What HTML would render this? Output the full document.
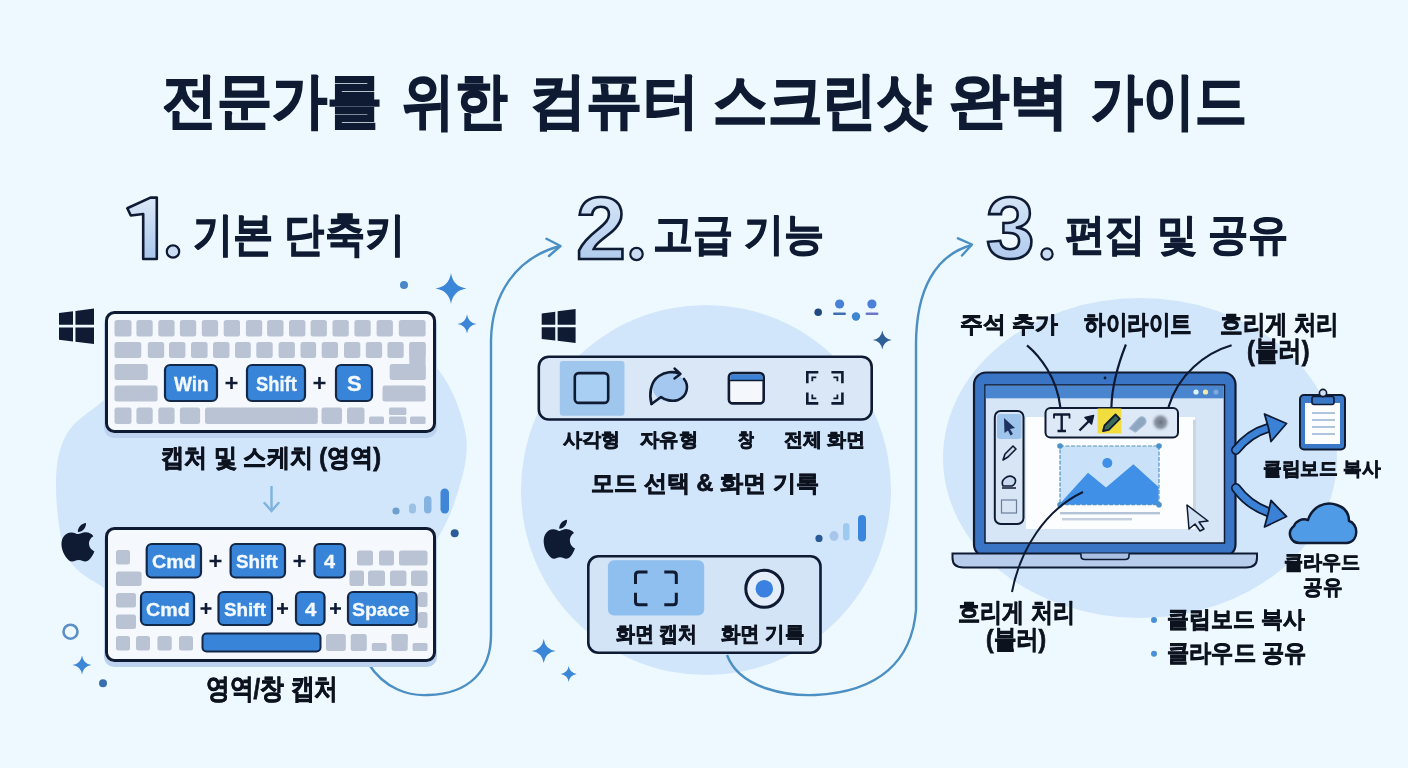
<!DOCTYPE html>
<html lang="ko"><head><meta charset="utf-8"><title>전문가를 위한 컴퓨터 스크린샷 완벽 가이드</title>
<style>
html,body{margin:0;padding:0;}
body{width:1408px;height:768px;overflow:hidden;position:relative;background:#edf9fe;font-family:"Liberation Sans",sans-serif;}
.tx{position:absolute;line-height:1;white-space:nowrap;transform-origin:0 0;}
</style></head><body>
<svg width="1408" height="768" viewBox="0 0 1408 768" style="position:absolute;left:0;top:0"><path d="M265 322 C300.0 320.3 351.4 327.4 380 335 C408.6 342.6 422.2 351.2 436.5 367.5 C450.8 383.8 462.0 412.3 465.6 433 C469.2 453.7 463.9 472.0 458 491.5 C452.1 511.0 444.7 529.4 430 550 C415.3 570.6 396.7 600.0 370 615 C343.3 630.0 305.0 639.5 270 640 C235.0 640.5 187.7 626.7 160 618 C132.3 609.3 119.5 598.5 104 588 C88.5 577.5 74.7 572.3 66.7 555 C58.7 537.7 56.0 504.2 56 484 C56.0 463.8 58.7 448.0 66.7 434 C74.7 420.0 86.8 414.8 104 400 C121.2 385.2 143.2 358.0 170 345 C196.8 332.0 230.0 323.7 265 322Z" fill="#d2e6fb"/><circle cx="706" cy="490" r="185" fill="#d2e6fb"/><ellipse cx="1140" cy="458" rx="197" ry="160" fill="#d2e6fb"/><path d="M368 663 C385 690 410 696 428 695 C470 694 491 670 491 635 L491 340 C492 295 515 258 560 246" fill="none" stroke="#4b8fc3" stroke-width="2.4"/>
<path d="M546.5 238.8 L560.5 246 L549 256" fill="none" stroke="#4b8fc3" stroke-width="2.4" stroke-linecap="round" stroke-linejoin="round"/>
<path d="M727 655 C740 690 790 696 815 695 C880 692 912 660 916 610 L916 345 C916 290 935 255 972 245" fill="none" stroke="#4b8fc3" stroke-width="2.4"/>
<path d="M958 238.3 L972 244.5 L962 255.5" fill="none" stroke="#4b8fc3" stroke-width="2.4" stroke-linecap="round" stroke-linejoin="round"/><circle cx="404" cy="285" r="4" fill="#4a86c8"/>
<path d="M451 273.0 Q453.015 286.485 466.5 288.5 Q453.015 290.515 451 304.0 Q448.985 290.515 435.5 288.5 Q448.985 286.485 451 273.0Z" fill="#3b86d6"/>
<path d="M467 314.5 Q468.235 322.765 476.5 324 Q468.235 325.235 467 333.5 Q465.765 325.235 457.5 324 Q465.765 322.765 467 314.5Z" fill="#3b86d6"/>
<circle cx="396" cy="511" r="3.6" fill="#6f9fcc"/>
<rect x="409" y="503.5" width="7" height="10" rx="3.5" fill="#9cc1e4"/>
<rect x="424" y="496" width="7.5" height="17.5" rx="3.7" fill="#84b3e2"/>
<rect x="440.5" y="488.5" width="8.5" height="25" rx="4.2" fill="#3f86d6"/>
<circle cx="454.7" cy="533.2" r="4" fill="#2a5d9a"/>
<circle cx="70.5" cy="631.7" r="7" fill="none" stroke="#5b8fc8" stroke-width="2.6"/>
<path d="M82 655.5 Q83.235 663.765 91.5 665 Q83.235 666.235 82 674.5 Q80.765 666.235 72.5 665 Q80.765 663.765 82 655.5Z" fill="#3b86d6"/>
<circle cx="103" cy="683.3" r="4" fill="#3a6fae"/>
<circle cx="818.2" cy="312.3" r="3.8" fill="#1f4b82"/>
<circle cx="839.6" cy="304" r="4.6" fill="#4a80d8"/>
<rect x="833" y="312.5" width="13" height="2.6" rx="1.3" fill="#3f6fb0"/>
<circle cx="856" cy="316.5" r="4.2" fill="#3f86d0"/>
<circle cx="871.9" cy="304" r="4.6" fill="#4a80d8"/>
<rect x="865.5" y="312.5" width="13" height="2.6" rx="1.3" fill="#6f78c8"/>
<path d="M882.3 330.5 Q883.535 338.765 891.8 340 Q883.535 341.235 882.3 349.5 Q881.0649999999999 341.235 872.8 340 Q881.0649999999999 338.765 882.3 330.5Z" fill="#2f5f98"/>
<circle cx="819" cy="538.4" r="3.6" fill="#2a5a98"/>
<ellipse cx="834" cy="536" rx="4.5" ry="5" fill="#a8c6ec"/>
<rect x="843" y="523" width="6.5" height="17.5" rx="3.2" fill="#9fcaf0"/>
<rect x="858" y="515" width="8" height="26.5" rx="4" fill="#3a86dc"/>
<path d="M543.7 639 Q545.26 649.44 555.7 651 Q545.26 652.56 543.7 663 Q542.1400000000001 652.56 531.7 651 Q542.1400000000001 649.44 543.7 639Z" fill="#3b86d6"/>
<path d="M568.7 666 Q569.74 672.96 576.7 674 Q569.74 675.04 568.7 682 Q567.6600000000001 675.04 560.7 674 Q567.6600000000001 672.96 568.7 666Z" fill="#3b86d6"/><path d="M59 313.12L73.0 311.27L73.0 324.83L59 324.83ZM75.45 310.95L94 308.5L94 324.83L75.45 324.83ZM59 327.49L73.0 327.49L73.0 341.44L59 339.74ZM75.45 327.49L94 327.49L94 344.0L75.45 341.74Z" fill="#0f1a33"/>
<rect x="104" y="314" width="333" height="124" rx="10" fill="#bcd2ee" />
<rect x="106.5" y="312.5" width="328" height="119" rx="8" fill="#f5f9fd" stroke="#0f1a33" stroke-width="3"/>
<rect x="114.5" y="320" width="17.0" height="16.5" rx="2.5" fill="#b9c3d4" />
<rect x="136.4" y="320" width="16.3" height="16.5" rx="2.5" fill="#b9c3d4" />
<rect x="158.3" y="320" width="16.3" height="16.5" rx="2.5" fill="#b9c3d4" />
<rect x="179.9" y="320" width="16.3" height="16.5" rx="2.5" fill="#b9c3d4" />
<rect x="201.8" y="320" width="16.3" height="16.5" rx="2.5" fill="#b9c3d4" />
<rect x="223.7" y="320" width="16.3" height="16.5" rx="2.5" fill="#b9c3d4" />
<rect x="245.9" y="320" width="16.3" height="16.5" rx="2.5" fill="#b9c3d4" />
<rect x="267.1" y="320" width="16.4" height="16.5" rx="2.5" fill="#b9c3d4" />
<rect x="289" y="320" width="16.4" height="16.5" rx="2.5" fill="#b9c3d4" />
<rect x="310.6" y="320" width="16.3" height="16.5" rx="2.5" fill="#b9c3d4" />
<rect x="332.5" y="320" width="16.3" height="16.5" rx="2.5" fill="#b9c3d4" />
<rect x="354.4" y="320" width="16.3" height="16.5" rx="2.5" fill="#b9c3d4" />
<rect x="376.6" y="320" width="16.3" height="16.5" rx="2.5" fill="#b9c3d4" />
<rect x="398.8" y="320" width="26.8" height="16.5" rx="2.5" fill="#b9c3d4" />
<rect x="114.5" y="342" width="26.8" height="16" rx="2.5" fill="#b9c3d4" />
<rect x="147.8" y="342" width="16.4" height="16" rx="2.5" fill="#b9c3d4" />
<rect x="169" y="342" width="16.4" height="16" rx="2.5" fill="#b9c3d4" />
<rect x="191" y="342" width="16.6" height="16" rx="2.5" fill="#b9c3d4" />
<rect x="213" y="342" width="16.5" height="16" rx="2.5" fill="#b9c3d4" />
<rect x="235" y="342" width="15.8" height="16" rx="2.5" fill="#b9c3d4" />
<rect x="256.3" y="342" width="16.4" height="16" rx="2.5" fill="#b9c3d4" />
<rect x="278.6" y="342" width="16.3" height="16" rx="2.5" fill="#b9c3d4" />
<rect x="300.5" y="342" width="15.6" height="16" rx="2.5" fill="#b9c3d4" />
<rect x="321.7" y="342" width="16.3" height="16" rx="2.5" fill="#b9c3d4" />
<rect x="344" y="342" width="16.3" height="16" rx="2.5" fill="#b9c3d4" />
<rect x="365.8" y="342" width="16.3" height="16" rx="2.5" fill="#b9c3d4" />
<rect x="387.4" y="342" width="16.3" height="16" rx="2.5" fill="#b9c3d4" />
<rect x="409.3" y="342" width="16.3" height="16" rx="2.5" fill="#b9c3d4" />
<rect x="409.3" y="342" width="16.3" height="38" rx="2.5" fill="#b9c3d4" />
<rect x="389.7" y="364" width="35.9" height="16" rx="2.5" fill="#b9c3d4" />
<rect x="114.5" y="364" width="33.3" height="16" rx="2.5" fill="#b9c3d4" />
<rect x="114.5" y="385.5" width="43.1" height="16.0" rx="2.5" fill="#b9c3d4" />
<rect x="382.5" y="385.5" width="43.1" height="16.0" rx="2.5" fill="#b9c3d4" />
<rect x="114.5" y="407.5" width="17.0" height="16.5" rx="2.5" fill="#b9c3d4" />
<rect x="136.4" y="407.5" width="16.3" height="16.5" rx="2.5" fill="#b9c3d4" />
<rect x="158.3" y="407.5" width="16.3" height="16.5" rx="2.5" fill="#b9c3d4" />
<rect x="179.9" y="407.5" width="20.2" height="16.5" rx="2.5" fill="#b9c3d4" />
<rect x="205" y="407.5" width="112.8" height="16.5" rx="2.5" fill="#b9c3d4" />
<rect x="321.5" y="407.5" width="20.5" height="16.5" rx="2.5" fill="#b9c3d4" />
<rect x="347" y="407.5" width="17.5" height="16.5" rx="2.5" fill="#b9c3d4" />
<rect x="369" y="416.5" width="15" height="7.5" rx="1.5" fill="#b9c3d4" />
<rect x="389" y="407.5" width="17.4" height="7.5" rx="1.5" fill="#b9c3d4" />
<rect x="389" y="416.5" width="17.4" height="7.5" rx="1.5" fill="#b9c3d4" />
<rect x="410" y="416.5" width="15.6" height="7.5" rx="1.5" fill="#b9c3d4" />
<rect x="165" y="365" width="52" height="36" rx="5" fill="#3784d8" stroke="#132848" stroke-width="2.2"/>
<rect x="247" y="365" width="58" height="36" rx="5" fill="#3784d8" stroke="#132848" stroke-width="2.2"/>
<rect x="336" y="365" width="36" height="36" rx="5" fill="#3784d8" stroke="#132848" stroke-width="2.2"/>
<path d="M225.5 383H237.5M231.5 377V389" stroke="#0f1a33" stroke-width="2.6"/>
<path d="M313.5 383H325.5M319.5 377V389" stroke="#0f1a33" stroke-width="2.6"/>
<path d="M271.5 486 V510" stroke="#7fb2df" stroke-width="2.4"/><path d="M264.5 503 L271.5 511 L278.5 503" fill="none" stroke="#7fb2df" stroke-width="2.4" stroke-linecap="round"/>
<path transform="translate(61.5 523) scale(1.6872 1.6083) translate(-2.25 0)" d="M12.152 6.896c-.948 0-2.415-1.078-3.96-1.04-2.04.027-3.91 1.183-4.961 3.014-2.117 3.675-.546 9.103 1.519 12.09 1.013 1.454 2.208 3.09 3.792 3.039 1.52-.065 2.09-.987 3.935-.987 1.831 0 2.35.987 3.96.948 1.637-.026 2.676-1.48 3.676-2.948 1.156-1.688 1.636-3.325 1.662-3.415-.039-.013-3.182-1.221-3.22-4.857-.026-3.04 2.48-4.494 2.597-4.559-1.429-2.09-3.623-2.324-4.39-2.376-2-.156-3.675 1.09-4.61 1.09zM15.53 3.83c.843-1.012 1.4-2.427 1.245-3.83-1.207.052-2.662.805-3.532 1.818-.78.896-1.454 2.338-1.273 3.714 1.338.104 2.715-.688 3.559-1.701" fill="#0f1a33"/>
<rect x="104" y="530" width="333" height="137" rx="10" fill="#bcd2ee" />
<rect x="106.5" y="528.5" width="328" height="132" rx="8" fill="#f5f9fd" stroke="#0f1a33" stroke-width="3"/>
<rect x="116" y="550" width="14" height="14.5" rx="2.5" fill="#b9c3d4" />
<rect x="116" y="571.6" width="25.6" height="14.4" rx="2.5" fill="#b9c3d4" />
<rect x="116" y="593" width="20" height="14.4" rx="2.5" fill="#b9c3d4" />
<rect x="116" y="614.6" width="20" height="14.4" rx="2.5" fill="#b9c3d4" />
<rect x="116" y="636" width="14" height="14.5" rx="2.5" fill="#b9c3d4" />
<rect x="136" y="636" width="14" height="14.5" rx="2.5" fill="#b9c3d4" />
<rect x="157.4" y="636" width="14.3" height="14.5" rx="2.5" fill="#b9c3d4" />
<rect x="179" y="636" width="14" height="14.5" rx="2.5" fill="#b9c3d4" />
<rect x="357" y="550.5" width="16" height="14.9" rx="2.5" fill="#b9c3d4" />
<rect x="379" y="550.5" width="15" height="14.9" rx="2.5" fill="#b9c3d4" />
<rect x="399" y="550.5" width="28.5" height="14.9" rx="2.5" fill="#b9c3d4" />
<rect x="349.5" y="570.5" width="14.5" height="15.5" rx="2.5" fill="#b9c3d4" />
<rect x="368" y="570.5" width="17" height="15.5" rx="2.5" fill="#b9c3d4" />
<rect x="390" y="570.5" width="16.4" height="15.5" rx="2.5" fill="#b9c3d4" />
<rect x="411" y="570.5" width="16.5" height="15.5" rx="2.5" fill="#b9c3d4" />
<rect x="418" y="592" width="9.5" height="15" rx="2.5" fill="#b9c3d4" />
<rect x="418" y="612" width="9.5" height="16" rx="2.5" fill="#b9c3d4" />
<rect x="326" y="634" width="19.8" height="17" rx="2.5" fill="#b9c3d4" />
<rect x="350.7" y="634" width="16.1" height="17" rx="2.5" fill="#b9c3d4" />
<rect x="391.6" y="634" width="16.1" height="17" rx="2.5" fill="#b9c3d4" />
<rect x="371.8" y="643" width="14.8" height="8" rx="1.5" fill="#b9c3d4" />
<rect x="412.6" y="643" width="14.9" height="8" rx="1.5" fill="#b9c3d4" />
<rect x="391.6" y="634" width="16.1" height="7.5" rx="1.5" fill="#b9c3d4" />
<rect x="146.7" y="544" width="54.3" height="33.5" rx="5" fill="#3784d8" stroke="#132848" stroke-width="2.2"/>
<rect x="230.6" y="544" width="54.4" height="33.5" rx="5" fill="#3784d8" stroke="#132848" stroke-width="2.2"/>
<rect x="314.5" y="544" width="30.5" height="33.5" rx="5" fill="#3784d8" stroke="#132848" stroke-width="2.2"/>
<path d="M209.5 561H221.5M215.5 555V567" stroke="#0f1a33" stroke-width="2.6"/>
<path d="M293.5 561H305.5M299.5 555V567" stroke="#0f1a33" stroke-width="2.6"/>
<rect x="141" y="592" width="53" height="33" rx="5" fill="#3784d8" stroke="#132848" stroke-width="2.2"/>
<rect x="218.5" y="592" width="53.5" height="33" rx="5" fill="#3784d8" stroke="#132848" stroke-width="2.2"/>
<rect x="296" y="592" width="28.5" height="33" rx="5" fill="#3784d8" stroke="#132848" stroke-width="2.2"/>
<rect x="348" y="592" width="68.6" height="33" rx="5" fill="#3784d8" stroke="#132848" stroke-width="2.2"/>
<path d="M200.5 608.5H211.5M206 603.0V614.0" stroke="#0f1a33" stroke-width="2.6"/>
<path d="M277.0 608.5H288.0M282.5 603.0V614.0" stroke="#0f1a33" stroke-width="2.6"/>
<path d="M330.0 608.5H341.0M335.5 603.0V614.0" stroke="#0f1a33" stroke-width="2.6"/>
<rect x="202.5" y="633.5" width="118" height="18" rx="4" fill="#3784d8" stroke="#132848" stroke-width="2"/><path d="M541.7 313.42L555.26 311.65L555.26 324.64L541.7 324.64ZM557.63 311.34L575.6 309L575.6 324.64L557.63 324.64ZM541.7 327.19L555.26 327.19L555.26 340.55L541.7 338.92ZM557.63 327.19L575.6 327.19L575.6 343L557.63 340.84Z" fill="#0f1a33"/>
<rect x="538.8" y="356.7" width="332.9" height="62.8" rx="10" fill="#d9e7f6" stroke="#0f1a33" stroke-width="2.6"/>
<rect x="559.8" y="361" width="64.7" height="54.8" rx="3" fill="#9fc7ed"/>
<rect x="574.8" y="373.1" width="33.4" height="29.8" rx="4" fill="#a9cff2" stroke="#0f1a33" stroke-width="2.6"/>
<ellipse cx="669" cy="387" rx="16.5" ry="14.5" fill="#a4c8f0"/>
<path d="M651.5 404 C649 395 650 382 659 376 C665 372 673 371 679 373.5" fill="none" stroke="#0f1a33" stroke-width="2.6" stroke-linecap="round"/>
<path d="M674.5 368.5 L680.5 374 L674.5 378.5" fill="none" stroke="#0f1a33" stroke-width="2.4" stroke-linecap="round" stroke-linejoin="round"/>
<path d="M684 379 C689 385 688 396 678 400 C672 402 665 400 661 397 L651.5 404" fill="none" stroke="#0f1a33" stroke-width="2.6" stroke-linecap="round" stroke-linejoin="round"/>
<rect x="728.9" y="373.1" width="34.8" height="30.3" rx="4" fill="#f4f8fc" stroke="#0f1a33" stroke-width="2.6"/>
<rect x="730.2" y="374.4" width="32.2" height="6" rx="1.5" fill="#3b82d6"/>
<path d="M730 380.5 H763" stroke="#0f1a33" stroke-width="1.6"/>
<path d="M807.3 383.3V372.3H818.3M831.4 372.3H842.4V383.3M842.4 392.4V403.4H831.4M818.3 403.4H807.3V392.4" fill="none" stroke="#0f1a33" stroke-width="2.6"/>
<path d="M812.3 381.3V377.3H816.3M833.4 377.3H837.4V381.3M837.4 394.4V398.4H833.4M816.3 398.4H812.3V394.4" fill="none" stroke="#0f1a33" stroke-width="1.8"/>
<path transform="translate(543.7 519.7) scale(1.6051 1.6271) translate(-2.25 0)" d="M12.152 6.896c-.948 0-2.415-1.078-3.96-1.04-2.04.027-3.91 1.183-4.961 3.014-2.117 3.675-.546 9.103 1.519 12.09 1.013 1.454 2.208 3.09 3.792 3.039 1.52-.065 2.09-.987 3.935-.987 1.831 0 2.35.987 3.96.948 1.637-.026 2.676-1.48 3.676-2.948 1.156-1.688 1.636-3.325 1.662-3.415-.039-.013-3.182-1.221-3.22-4.857-.026-3.04 2.48-4.494 2.597-4.559-1.429-2.09-3.623-2.324-4.39-2.376-2-.156-3.675 1.09-4.61 1.09zM15.53 3.83c.843-1.012 1.4-2.427 1.245-3.83-1.207.052-2.662.805-3.532 1.818-.78.896-1.454 2.338-1.273 3.714 1.338.104 2.715-.688 3.559-1.701" fill="#0f1a33"/>
<rect x="588.3" y="556.3" width="232.2" height="96.4" rx="10" fill="#d3e4f6" stroke="#0f1a33" stroke-width="2.6"/>
<rect x="607.9" y="560.2" width="96.3" height="55.4" rx="6" fill="#8fbfee"/>
<path d="M635.5 584V575Q635.5 572 638.5 572H647.5M664.3 572H673.3Q676.3 572 676.3 575V584M676.3 592.7V601.7Q676.3 604.7 673.3 604.7H664.3M647.5 604.7H638.5Q635.5 604.7 635.5 601.7V592.7" fill="none" stroke="#0f1a33" stroke-width="3"/>
<circle cx="764.3" cy="588.75" r="18.5" fill="#e4eefa" stroke="#0f1a33" stroke-width="3"/>
<circle cx="764.3" cy="588.75" r="8.8" fill="#3b82e0"/><rect x="974" y="372.5" width="261.5" height="184" rx="12" fill="#3a74c4" stroke="#0f1a33" stroke-width="2.2"/>
<circle cx="1105" cy="378" r="1.4" fill="#0f1a33"/>
<rect x="985" y="385" width="239.5" height="158" fill="#d6e6f7" stroke="#0f1a33" stroke-width="1.5"/>
<rect x="985.8" y="385.8" width="238" height="12.5" fill="#4a86d0"/>
<circle cx="1196" cy="392" r="2.6" fill="#dff3fb"/><circle cx="1205.5" cy="392" r="2.6" fill="#f1eaa8"/><circle cx="1216" cy="392" r="2.6" fill="#7fa9da"/>
<rect x="1026" y="417" width="169" height="112" fill="#fbfdff"/>
<rect x="1193" y="420" width="3" height="104" fill="#c9d6e6"/>
<rect x="1060" y="446" width="99" height="58.7" fill="#c9e2f9" stroke="#5a93b8" stroke-width="1.2" stroke-dasharray="4 1.5"/>
<path d="M1060.5 503 L1088 472.8 L1106 487.5 L1133.4 464.3 L1158.5 487 L1158.5 504.5 L1060.5 504.5 Z" fill="#3f90e6"/>
<circle cx="1107.3" cy="463" r="5" fill="#3f90e6"/>
<circle cx="1060" cy="446" r="2.8" fill="#4a92c9"/>
<circle cx="1159" cy="446" r="2.8" fill="#4a92c9"/>
<circle cx="1060" cy="504.7" r="2.8" fill="#4a92c9"/>
<circle cx="1159" cy="504.7" r="2.8" fill="#4a92c9"/>
<rect x="1060" y="512" width="100" height="2.4" fill="#b4c4d8"/><rect x="1062" y="518" width="70" height="2.4" fill="#c4d0e0"/>
<path d="M1187 505 L1208 521 L1199 522 L1204 529 L1200 531 L1195 524 L1189 529 Z" fill="#cfe0f2" stroke="#0f1a33" stroke-width="1.5" stroke-linejoin="round"/>
<rect x="1045.5" y="408" width="132.5" height="29.5" rx="5" fill="#dde9f6" stroke="#0f1a33" stroke-width="2"/>
<path d="M1053.5 414.5 H1070 M1061.7 414.5 V431 M1057.5 431 H1066" fill="none" stroke="#0f1a33" stroke-width="2.4"/>
<path d="M1054 414 V418.5 M1069.5 414 V418.5" stroke="#0f1a33" stroke-width="1.8"/>
<path d="M1079.5 430.5 L1090 420" fill="none" stroke="#0f1a33" stroke-width="2.4"/><path d="M1093.6 415.4 L1085 417.5 L1091.5 424 Z" fill="#0f1a33" stroke="#0f1a33" stroke-width="1.5" stroke-linejoin="round"/>
<rect x="1097.7" y="408.5" width="23.7" height="25" fill="#f1de3e"/>
<path d="M1103 431 L1104.5 425.5 L1115.5 414.5 L1119.8 418.8 L1108.8 429.8 Z" fill="#3a6a55" stroke="#0f1a33" stroke-width="1.8" stroke-linejoin="round"/>
<path d="M1129.5 428.5 L1138 419 C1140 416.5 1143 416 1145 418.5 C1146.5 420.5 1146 423 1144 425 L1135.5 432 Z" fill="#8fa6c0" stroke="#9fb6d0" stroke-width="1.2"/>
<defs><radialGradient id="blr"><stop offset="0" stop-color="#6a7484"/><stop offset="0.55" stop-color="#8e98a8"/><stop offset="1" stop-color="#dde9f6" stop-opacity="0"/></radialGradient></defs><circle cx="1160.5" cy="422.3" r="10" fill="url(#blr)"/>
<path d="M1027 345.3 C1040 356 1057 378 1060.3 407" fill="none" stroke="#0f1a33" stroke-width="2.2"/>
<path d="M1125.9 344.5 C1119 362 1112 385 1111.4 407" fill="none" stroke="#0f1a33" stroke-width="2.2"/>
<path d="M1231.6 345.3 C1205 353 1178 375 1168.5 407" fill="none" stroke="#0f1a33" stroke-width="2.2"/>
<rect x="994.8" y="411" width="28.7" height="113" rx="6" fill="#d8e5f5" stroke="#0f1a33" stroke-width="2"/>
<rect x="997" y="414" width="24.5" height="25" rx="3" fill="#9ec4ec"/>
<path d="M1004 418 L1015 428 L1010 429 L1013 434 L1010.5 435.5 L1008 430.5 L1004.5 433 Z" fill="#1d3260"/>
<path d="M1003 460 L1005 454 L1013 446 L1016 449 L1008 457 Z" fill="#c9d9ec" stroke="#0f1a33" stroke-width="1.6" stroke-linejoin="round"/>
<path d="M1003 486 C1000 480 1008 474 1013 477 C1017 479 1016 484 1012 486 Z M1002 488 H1016" fill="#c9d9ec" stroke="#0f1a33" stroke-width="1.6"/>
<rect x="1001.5" y="500" width="15" height="13" fill="none" stroke="#6a7f99" stroke-width="1.2"/>
<path d="M952.5 553.5 H1257 V558 Q1257 567.5 1246 567.5 H963.5 Q952.5 567.5 952.5 558 Z" fill="#b7cdeb" stroke="#0f1a33" stroke-width="2"/>
<path d="M1081 553.5 V556 Q1081 559.5 1085 559.5 H1125 Q1129 559.5 1129 556 V553.5" fill="#a9c0e3" stroke="#0f1a33" stroke-width="1.6"/>
<path d="M1083 492 C1045 510 1020 550 1012 592" fill="none" stroke="#0f1a33" stroke-width="2"/>
<path d="M1236 450 C1244 440 1254 432 1268 428" fill="none" stroke="#0f1a33" stroke-width="10" stroke-linecap="round"/>
<path d="M1236 450 C1244 440 1254 432 1268 428" fill="none" stroke="#3b82d6" stroke-width="6.5" stroke-linecap="round"/>
<path d="M1236 488 C1244 499 1254 507 1268 512" fill="none" stroke="#0f1a33" stroke-width="10" stroke-linecap="round"/>
<path d="M1236 488 C1244 499 1254 507 1268 512" fill="none" stroke="#3b82d6" stroke-width="6.5" stroke-linecap="round"/>
<path d="M1286.5 423.5 L1264.5 414 L1268.5 428 L1271 441.5 Z" fill="#3b82d6" stroke="#0f1a33" stroke-width="1.8" stroke-linejoin="round"/>
<path d="M1286.5 516.5 L1271 500.5 L1268.5 512 L1264.5 527 Z" fill="#3b82d6" stroke="#0f1a33" stroke-width="1.8" stroke-linejoin="round"/>
<rect x="1300" y="395" width="45" height="54.5" rx="4" fill="#3a78c8" stroke="#0f1a33" stroke-width="2"/>
<rect x="1305" y="403" width="35" height="41" fill="#fbfdff"/>
<rect x="1312" y="396.5" width="22" height="8" rx="2" fill="#3a78c8" stroke="#0f1a33" stroke-width="1.6"/>
<circle cx="1323" cy="393" r="3.6" fill="#cfe0f2" stroke="#0f1a33" stroke-width="1.6"/>
<path d="M1312 413 H1335" stroke="#9cb6d6" stroke-width="1.6"/>
<path d="M1312 420 H1335" stroke="#9cb6d6" stroke-width="1.6"/>
<path d="M1312 427 H1335" stroke="#9cb6d6" stroke-width="1.6"/>
<path d="M1312 434 H1335" stroke="#9cb6d6" stroke-width="1.6"/>
<path d="M1300 543 C1290 543 1286.5 532 1294 526 C1296 521 1302 518 1308 520 C1312 507 1325 500.5 1337 505 C1346 508 1349 515 1349 521 C1358 523 1360 541 1347 543 Z" fill="#4f9be6" stroke="#0f1a33" stroke-width="2.5" stroke-linejoin="round"/>
<circle cx="1154" cy="620" r="3" fill="#4a90d9"/><circle cx="1154" cy="653.7" r="3" fill="#4a90d9"/><defs><linearGradient id="ng" x1="0" y1="0" x2="0" y2="1"><stop offset="0" stop-color="#dbe9f8"/><stop offset="1" stop-color="#a9c6ec"/></linearGradient></defs>
<path d="M127.3 208.3 L150.5 197.6 L156.8 197.6 L156.8 259 L143.2 259 L143.2 214 L130.8 215.5 Z" fill="url(#ng)" stroke="#0f1a33" stroke-width="2.6" stroke-linejoin="round"/>
<circle cx="173" cy="251.5" r="6.2" fill="#c9dcf2" stroke="#0f1a33" stroke-width="2.2"/>
<circle cx="636.5" cy="254" r="6.2" fill="#c9dcf2" stroke="#0f1a33" stroke-width="2.2"/>
<circle cx="1047" cy="254" r="5.6" fill="#c9dcf2" stroke="#0f1a33" stroke-width="2.2"/></svg>
<div class="tx" style="left:162.0px;top:71.0px;font-size:59.628px;transform:scaleX(0.9187);font-weight:700;color:#0f1a33;-webkit-text-stroke:1.5px #0f1a33;">전문가를</div>
<div class="tx" style="left:402.0px;top:71.0px;font-size:60.656px;transform:scaleX(0.861);font-weight:700;color:#0f1a33;-webkit-text-stroke:1.5px #0f1a33;">위한</div>
<div class="tx" style="left:529.6px;top:71.0px;font-size:60.018px;transform:scaleX(0.9378);font-weight:700;color:#0f1a33;-webkit-text-stroke:1.5px #0f1a33;">컴퓨터</div>
<div class="tx" style="left:713.0px;top:70.0px;font-size:62.366px;transform:scaleX(0.8792);font-weight:700;color:#0f1a33;-webkit-text-stroke:1.5px #0f1a33;">스크린샷</div>
<div class="tx" style="left:949.0px;top:71.0px;font-size:60.018px;transform:scaleX(1.0028);font-weight:700;color:#0f1a33;-webkit-text-stroke:1.5px #0f1a33;">완벽</div>
<div class="tx" style="left:1091.0px;top:71.0px;font-size:60.656px;transform:scaleX(0.8494);font-weight:700;color:#0f1a33;-webkit-text-stroke:1.5px #0f1a33;">가이드</div>
<div class="tx" style="left:193.0px;top:212.0px;font-size:45.856px;transform:scaleX(0.8731);font-weight:700;color:#0f1a33;-webkit-text-stroke:0.9px #0f1a33;">기본 단축키</div>
<div class="tx" style="left:653.0px;top:212.0px;font-size:43.642px;transform:scaleX(0.9111);font-weight:700;color:#0f1a33;-webkit-text-stroke:0.9px #0f1a33;">고급 기능</div>
<div class="tx" style="left:1065.0px;top:213.0px;font-size:43.158px;transform:scaleX(0.9353);font-weight:700;color:#0f1a33;-webkit-text-stroke:0.9px #0f1a33;">편집 및 공유</div>
<div class="tx" style="left:160.5px;top:444.7px;font-size:25.108px;transform:scaleX(0.9263);font-weight:700;color:#0d121f;-webkit-text-stroke:0.75px #0d121f;">캡처 및 스케치 (영역)</div>
<div class="tx" style="left:206.0px;top:675.0px;font-size:27.698px;transform:scaleX(0.8504);font-weight:700;color:#0d121f;-webkit-text-stroke:0.75px #0d121f;">영역/창 캡처</div>
<div class="tx" style="left:562.9px;top:430.5px;font-size:18.921px;transform:scaleX(1.0053);font-weight:700;color:#0d121f;-webkit-text-stroke:0.75px #0d121f;">사각형</div>
<div class="tx" style="left:640.2px;top:430.5px;font-size:18.935px;transform:scaleX(1.0179);font-weight:700;color:#0d121f;-webkit-text-stroke:0.75px #0d121f;">자유형</div>
<div class="tx" style="left:737.5px;top:430.5px;font-size:18.802px;transform:scaleX(0.8356);font-weight:700;color:#0d121f;-webkit-text-stroke:0.75px #0d121f;">창</div>
<div class="tx" style="left:784.4px;top:430.5px;font-size:18.703px;transform:scaleX(1.0029);font-weight:700;color:#0d121f;-webkit-text-stroke:0.75px #0d121f;">전체 화면</div>
<div class="tx" style="left:591.0px;top:471.7px;font-size:23.315px;transform:scaleX(1.005);font-weight:700;color:#0d121f;-webkit-text-stroke:0.75px #0d121f;">모드 선택 &amp; 화면 기록</div>
<div class="tx" style="left:615.6px;top:623.0px;font-size:21.088px;transform:scaleX(0.9031);font-weight:700;color:#0d121f;-webkit-text-stroke:0.75px #0d121f;">화면 캡처</div>
<div class="tx" style="left:721.2px;top:624.0px;font-size:20.686px;transform:scaleX(0.9246);font-weight:700;color:#0d121f;-webkit-text-stroke:0.75px #0d121f;">화면 기록</div>
<div class="tx" style="left:959.8px;top:313.4px;font-size:23.421px;transform:scaleX(0.9944);font-weight:700;color:#0d121f;-webkit-text-stroke:0.75px #0d121f;">주석 추가</div>
<div class="tx" style="left:1083.8px;top:312.0px;font-size:25.806px;transform:scaleX(0.8281);font-weight:700;color:#0d121f;-webkit-text-stroke:0.75px #0d121f;">하이라이트</div>
<div class="tx" style="left:1220.2px;top:311.8px;font-size:25.806px;transform:scaleX(0.8659);font-weight:700;color:#0d121f;-webkit-text-stroke:0.75px #0d121f;">흐리게 처리</div>
<div class="tx" style="left:1247.4px;top:337.4px;font-size:27.743px;transform:scaleX(0.8397);font-weight:700;color:#0d121f;-webkit-text-stroke:0.75px #0d121f;">(블러)</div>
<div class="tx" style="left:1263.0px;top:459.7px;font-size:18.818px;transform:scaleX(0.9868);font-weight:700;color:#0d121f;-webkit-text-stroke:0.75px #0d121f;">클립보드 복사</div>
<div class="tx" style="left:1284.3px;top:552.8px;font-size:19.917px;transform:scaleX(0.9528);font-weight:700;color:#0d121f;-webkit-text-stroke:0.75px #0d121f;">클라우드</div>
<div class="tx" style="left:1303.0px;top:576.8px;font-size:20.952px;transform:scaleX(0.9297);font-weight:700;color:#0d121f;-webkit-text-stroke:0.75px #0d121f;">공유</div>
<div class="tx" style="left:957.75px;top:600.25px;font-size:25.708px;transform:scaleX(0.8519);font-weight:700;color:#0d121f;-webkit-text-stroke:0.75px #0d121f;">흐리게 처리</div>
<div class="tx" style="left:985.9px;top:625.8px;font-size:26.321px;transform:scaleX(0.8644);font-weight:700;color:#0d121f;-webkit-text-stroke:0.75px #0d121f;">(블러)</div>
<div class="tx" style="left:1167.0px;top:608.0px;font-size:23.404px;transform:scaleX(0.9513);font-weight:700;color:#0d121f;-webkit-text-stroke:0.75px #0d121f;">클립보드 복사</div>
<div class="tx" style="left:1167.0px;top:640.9px;font-size:24.118px;transform:scaleX(0.9247);font-weight:700;color:#0d121f;-webkit-text-stroke:0.75px #0d121f;">클라우드 공유</div>
<div class="tx" style="left:576.0px;top:185.0px;font-size:88.91px;transform:scaleX(1.012);font-weight:700;color:#c4daf3;background:linear-gradient(180deg,#dbe9f8,#a9c6ec);-webkit-background-clip:text;-webkit-text-fill-color:transparent;-webkit-text-stroke:2.6px #0f1a33;">2</div>
<div class="tx" style="left:986.0px;top:185.0px;font-size:87.671px;transform:scaleX(0.9957);font-weight:700;color:#c4daf3;background:linear-gradient(180deg,#dbe9f8,#a9c6ec);-webkit-background-clip:text;-webkit-text-fill-color:transparent;-webkit-text-stroke:2.6px #0f1a33;">3</div>
<div class="tx" style="left:173.8px;top:374.0px;font-size:20.548px;transform:scaleX(0.9277);font-weight:700;color:#f4f9ff;-webkit-text-stroke:0.3px #f4f9ff;">Win</div>
<div class="tx" style="left:255.5px;top:374.0px;font-size:20.27px;transform:scaleX(0.9069);font-weight:700;color:#f4f9ff;-webkit-text-stroke:0.3px #f4f9ff;">Shift</div>
<div class="tx" style="left:346.9px;top:373.0px;font-size:22.636px;transform:scaleX(0.9724);font-weight:700;color:#f4f9ff;-webkit-text-stroke:0.3px #f4f9ff;">S</div>
<div class="tx" style="left:152.0px;top:552.5px;font-size:18.17px;transform:scaleX(1.0836);font-weight:700;color:#f4f9ff;-webkit-text-stroke:0.3px #f4f9ff;">Cmd</div>
<div class="tx" style="left:236.0px;top:552.5px;font-size:18.311px;transform:scaleX(1.0287);font-weight:700;color:#f4f9ff;-webkit-text-stroke:0.3px #f4f9ff;">Shift</div>
<div class="tx" style="left:324.0px;top:552.5px;font-size:18.409px;transform:scaleX(1.0832);font-weight:700;color:#f4f9ff;-webkit-text-stroke:0.3px #f4f9ff;">4</div>
<div class="tx" style="left:146.0px;top:601.5px;font-size:17.568px;transform:scaleX(1.1201);font-weight:700;color:#f4f9ff;-webkit-text-stroke:0.3px #f4f9ff;">Cmd</div>
<div class="tx" style="left:224.0px;top:601.5px;font-size:17.568px;transform:scaleX(1.0753);font-weight:700;color:#f4f9ff;-webkit-text-stroke:0.3px #f4f9ff;">Shift</div>
<div class="tx" style="left:304.5px;top:600.5px;font-size:18.841px;transform:scaleX(1.0832);font-weight:700;color:#f4f9ff;-webkit-text-stroke:0.3px #f4f9ff;">4</div>
<div class="tx" style="left:352.0px;top:600.5px;font-size:18.877px;transform:scaleX(1.0313);font-weight:700;color:#f4f9ff;-webkit-text-stroke:0.3px #f4f9ff;">Space</div>
</body></html>
